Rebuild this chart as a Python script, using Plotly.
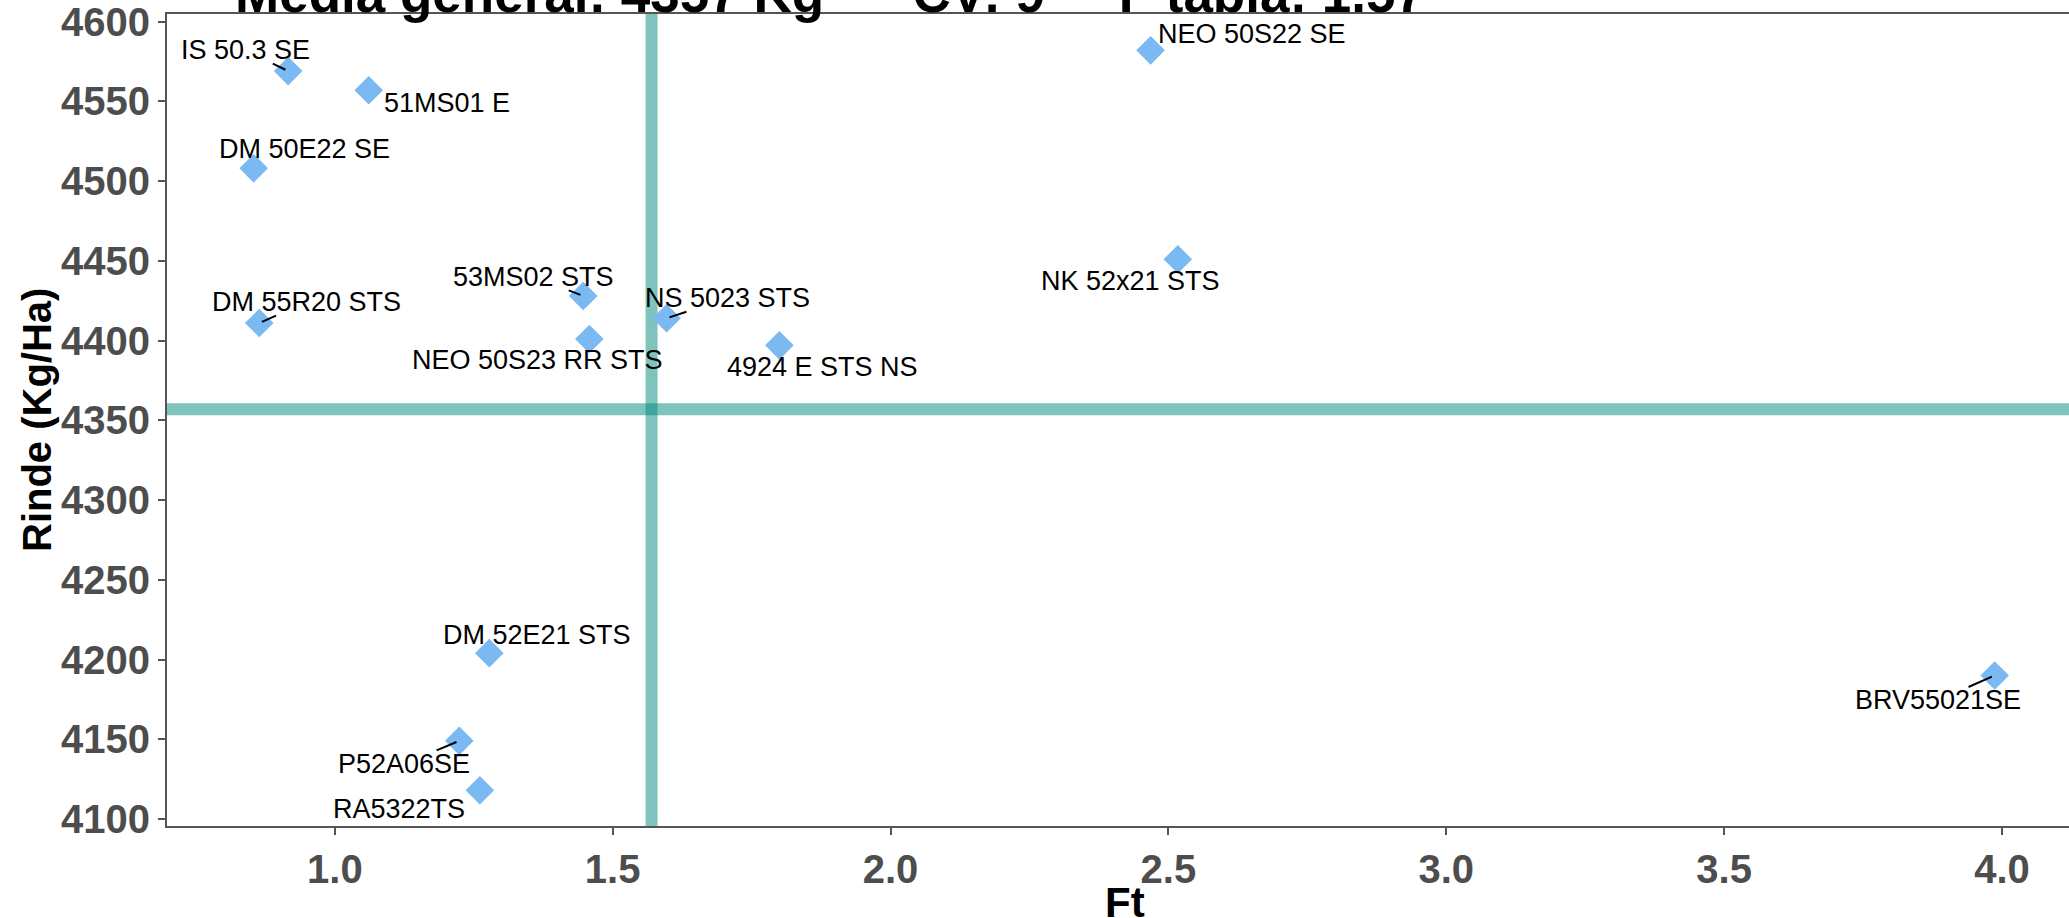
import plotly.graph_objects as go

# ---- data ----
genotipos = ["IS 50.3 SE", "51MS01 E", "DM 50E22 SE", "DM 55R20 STS", "53MS02 STS",
             "NEO 50S23 RR STS", "NS 5023 STS", "4924 E STS NS", "NEO 50S22 SE",
             "NK 52x21 STS", "DM 52E21 STS", "P52A06SE", "RA5322TS", "BRV55021SE"]
ft = [0.916, 1.061, 0.854, 0.864, 1.447, 1.458, 1.597, 1.800, 2.468, 2.517,
      1.278, 1.224, 1.261, 3.987]
rinde = [4569, 4557, 4508, 4411, 4428, 4401, 4414, 4397, 4582, 4451,
         4204, 4149, 4118, 4190]
media_general = 4357
cv = 9
f_tabla = 1.57
x_ticks = [1.0, 1.5, 2.0, 2.5, 3.0, 3.5, 4.0]
y_ticks = [4100, 4150, 4200, 4250, 4300, 4350, 4400, 4450, 4500, 4550, 4600]

# ---- label placement (pixel offsets from each point, repel-style) ----
label_dx = [-43, 78, 51, 47, -50, -52, 61, 43, 101, -47, 48, -55, -81, -57]
label_dy = [-21, 13, -19, -21, -19, 21, -20, 22, -16, 22, -18, 23, 19, 25]
label_segment = [True, False, False, True, True, False, True, False, False,
                 False, False, True, False, True]

W, H = 2069, 918
ML, MR, MT, MB = 167, 0, 14, 92

fig = go.Figure()
fig.add_trace(go.Scatter(
    x=ft, y=rinde, mode="markers",
    marker=dict(symbol="diamond", size=22, color="#7AB9F1", line=dict(width=0)),
    text=genotipos, hoverinfo="text", showlegend=False,
))

# reference lines
fig.add_shape(type="line", xref="paper", x0=0, x1=1, yref="y", y0=media_general, y1=media_general,
              line=dict(color="#00897B", width=12), opacity=0.5, layer="below")
fig.add_shape(type="line", xref="x", x0=f_tabla, x1=f_tabla, yref="paper", y0=0, y1=1,
              line=dict(color="#00897B", width=12), opacity=0.5, layer="below")

lab_font = dict(family="Liberation Sans, Arial, sans-serif", size=27, color="black")
for name, x, y, dx, dy, seg in zip(genotipos, ft, rinde, label_dx, label_dy, label_segment):
    if seg:
        fig.add_annotation(x=x, y=y, xref="x", yref="y", text=name, showarrow=True,
                           ax=dx, ay=dy, arrowhead=0, arrowwidth=2, arrowcolor="black",
                           standoff=3, height=24, font=lab_font)
    else:
        fig.add_annotation(x=x, y=y, xref="x", yref="y", text=name, showarrow=False,
                           xshift=dx, yshift=-dy, xanchor="center", yanchor="middle",
                           font=lab_font)

sp = "\u00a0"
titulo = f"Media general: {media_general} Kg{sp*6}CV: {cv}{sp*5}F tabla: {f_tabla}"
fig.add_annotation(text=titulo, xref="paper", yref="paper", x=(233 - ML) / (W - ML - MR),
                   y=1 + (MT - 25) / (H - MT - MB), xanchor="left", yanchor="bottom",
                   showarrow=False,
                   font=dict(family="Liberation Sans, Arial, sans-serif", size=53,
                             color="black", weight="bold"))
fig.add_annotation(text="Ft", xref="paper", yref="paper", x=(1125 - ML) / (W - ML - MR),
                   y=(H - MB - 902) / (H - MT - MB), xanchor="center", yanchor="middle",
                   showarrow=False,
                   font=dict(family="Liberation Sans, Arial, sans-serif", size=42,
                             color="black", weight="bold"))
fig.add_annotation(text="Rinde (Kg/Ha)", xref="paper", yref="paper",
                   x=(37 - ML) / (W - ML - MR), y=(H - MB - 420) / (H - MT - MB),
                   xanchor="center", yanchor="middle", textangle=-90, showarrow=False,
                   font=dict(family="Liberation Sans, Arial, sans-serif", size=40,
                             color="black", weight="bold"))

tick_font = dict(family="Liberation Sans, Arial, sans-serif", size=40, color="#4d4d4d",
                 weight="bold")
fig.update_xaxes(range=[0.698, 4.1207], tickvals=x_ticks,
                 ticktext=[f"{v:.1f}" for v in x_ticks], automargin=False,
                 ticklabeloverflow="allow",
                 showgrid=False, zeroline=False, showline=True, linecolor="#555555",
                 linewidth=2, mirror=True, ticks="outside", ticklen=7, tickwidth=2,
                 tickcolor="#555555", tickfont=tick_font)
fig.update_yaxes(range=[4095.6, 4604.8], tickvals=y_ticks, automargin=False,
                 ticklabeloverflow="allow",
                 showgrid=False, zeroline=False, showline=True, linecolor="#555555",
                 linewidth=2, mirror=False, ticks="outside", ticklen=7, tickwidth=2,
                 tickcolor="#555555", tickfont=tick_font)

fig.update_layout(width=W, height=H, margin=dict(l=ML, r=MR, t=MT, b=MB),
                  plot_bgcolor="white", paper_bgcolor="white", showlegend=False)

fig.write_html("out.html", config=dict(displayModeBar=False),
               post_script="document.body.style.margin='0';document.body.style.overflow='hidden';")
